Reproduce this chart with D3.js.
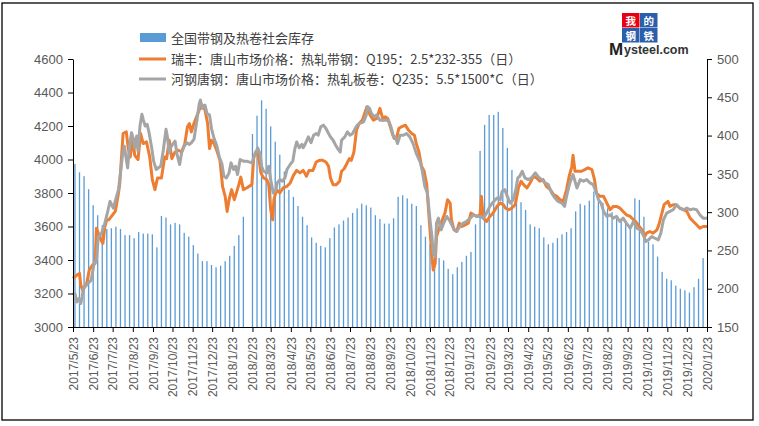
<!DOCTYPE html>
<html><head><meta charset="utf-8">
<script src="https://cdn.jsdelivr.net/npm/d3@7"></script>
<style>
body{margin:0;background:#fff}
svg{display:block}
text{font-family:"Liberation Sans",Arial,"Noto Sans CJK SC",sans-serif}
.cjk{font-family:"Noto Sans CJK SC","Liberation Sans",sans-serif}
</style>
</head><body>
<svg id="chart" width="759" height="426"></svg>
<script>
// ---------- DATA ----------
const xTickLabels = ["2017/5/23","2017/6/23","2017/7/23","2017/8/23","2017/9/23","2017/10/23","2017/11/23","2017/12/23",
"2018/1/23","2018/2/23","2018/3/23","2018/4/23","2018/5/23","2018/6/23","2018/7/23","2018/8/23","2018/9/23","2018/10/23","2018/11/23","2018/12/23",
"2019/1/23","2019/2/23","2019/3/23","2019/4/23","2019/5/23","2019/6/23","2019/7/23","2019/8/23","2019/9/23","2019/10/23","2019/11/23","2019/12/23","2020/1/23"];
const leftTicks = [3000,3200,3400,3600,3800,4000,4200,4400,4600];
const rightTicks = [150,200,250,300,350,400,450,500];

const seriesNames = ["全国带钢及热卷社会库存",
  "瑞丰：唐山市场价格：热轧带钢：Q195：2.5*232-355（日）",
  "河钢唐钢：唐山市场价格：热轧板卷：Q235：5.5*1500*C（日）"];

// weekly inventory (Fridays from 2017-05-26; null = no report, Spring Festival week)
const stockFirstWeek = "2017-05-26";
const stockValues = [363,352,347,330,309,296,283,278,279,281,
 278,270,270,266,274,272,272,271,254,295,
 293,284,286,284,273,268,257,246,236,236,
 231,228,230,236,243,256,270,294,
 null,
 402,426,446,435,412,392,375,353,329,320,
 308,294,283,267,260,256,254,266,280,284,
 289,293,299,305,311,309,306,296,291,285,
 285,
 292,320,322,318,311,308,283,268,258,249,
 240,237,226,219,228,235,243,248,284,
 380,414,427,427,431,410,384,355,328,313,
 303,284,281,279,267,258,260,266,271,274,
 279,301,311,309,315,327,314,312,305,300,
 291,291,287,282,318,316,294,261,258,242,
 222,213,211,204,200,198,195,202,213,240];

const rfDates = ["2017-05-23","2017-05-29","2017-06-02","2017-06-04","2017-06-07","2017-06-13","2017-06-17","2017-06-22","2017-06-26","2017-06-28",
"2017-07-01","2017-07-05","2017-07-08","2017-07-11","2017-07-14","2017-07-17","2017-07-22","2017-07-27","2017-08-01","2017-08-03",
"2017-08-08","2017-08-13","2017-08-16","2017-08-19","2017-08-23","2017-08-26","2017-08-31","2017-09-04","2017-09-08","2017-09-13",
"2017-09-18","2017-09-22","2017-09-26","2017-09-30","2017-10-06","2017-10-11","2017-10-14","2017-10-18","2017-10-22","2017-10-27",
"2017-11-01","2017-11-06","2017-11-11","2017-11-15","2017-11-18","2017-11-21","2017-11-25","2017-11-29","2017-12-04","2017-12-08",
"2017-12-12","2017-12-16","2017-12-19","2017-12-22","2017-12-26","2017-12-30","2018-01-04","2018-01-08","2018-01-12","2018-01-15",
"2018-01-18","2018-01-22","2018-01-26","2018-01-30","2018-02-02","2018-02-05","2018-02-09","2018-02-14","2018-02-22","2018-02-25",
"2018-02-28","2018-03-04","2018-03-08","2018-03-12","2018-03-17","2018-03-20","2018-03-23","2018-03-26","2018-03-28","2018-04-01",
"2018-04-06","2018-04-11","2018-04-17","2018-04-22","2018-04-27","2018-05-02","2018-05-07","2018-05-12","2018-05-17","2018-05-21",
"2018-05-27","2018-06-01","2018-06-06","2018-06-11","2018-06-16","2018-06-20","2018-06-23","2018-06-27","2018-07-02","2018-07-07",
"2018-07-10","2018-07-14","2018-07-18","2018-07-22","2018-07-25","2018-07-29","2018-08-02","2018-08-06","2018-08-11","2018-08-18",
"2018-08-23","2018-08-28","2018-09-02","2018-09-07","2018-09-12","2018-09-15","2018-09-19","2018-09-23","2018-09-26","2018-09-29",
"2018-10-03","2018-10-06","2018-10-10","2018-10-16","2018-10-21","2018-10-26","2018-10-30","2018-11-02","2018-11-06","2018-11-10",
"2018-11-14","2018-11-18","2018-11-20","2018-11-23","2018-11-26","2018-11-28","2018-12-01","2018-12-03","2018-12-08","2018-12-12",
"2018-12-16","2018-12-20","2018-12-24","2018-12-26","2018-12-30","2019-01-03","2019-01-07","2019-01-11","2019-01-16","2019-01-21",
"2019-01-25","2019-01-29","2019-02-03","2019-02-08","2019-02-10","2019-02-13","2019-02-18","2019-02-23","2019-02-28","2019-03-06",
"2019-03-11","2019-03-16","2019-03-19","2019-03-24","2019-03-29","2019-04-03","2019-04-08","2019-04-12","2019-04-16","2019-04-21",
"2019-04-26","2019-05-01","2019-05-06","2019-05-11","2019-05-16","2019-05-21","2019-05-27","2019-06-01","2019-06-06","2019-06-11",
"2019-06-16","2019-06-21","2019-06-25","2019-06-29","2019-07-01","2019-07-04","2019-07-09","2019-07-14","2019-07-19","2019-07-24",
"2019-07-30","2019-08-03","2019-08-06","2019-08-11","2019-08-17","2019-08-22","2019-08-27","2019-09-01","2019-09-06","2019-09-11",
"2019-09-16","2019-09-21","2019-09-27","2019-10-02","2019-10-05","2019-10-09","2019-10-15","2019-10-19","2019-10-22","2019-10-27",
"2019-11-01","2019-11-07","2019-11-10","2019-11-14","2019-11-18","2019-11-24","2019-11-27","2019-12-02","2019-12-07","2019-12-12",
"2019-12-18","2019-12-23","2019-12-28","2020-01-02","2020-01-07","2020-01-12","2020-01-17","2020-01-23"];
const rfPrices = [3290,3310,3320,3250,3220,3260,3340,3370,3380,3590,
3560,3520,3500,3600,3640,3640,3665,3690,3800,3860,
4155,4165,4065,4015,4125,4025,4000,4155,4095,4105,
4015,3880,3820,3890,3890,4015,4005,4115,4005,4045,
4055,4045,4095,4195,4215,4165,4215,4255,4305,4325,
4295,4215,4065,4115,4095,4055,3995,3840,3780,3690,
3760,3820,3760,3810,3850,3895,3820,3830,3850,4015,
4045,4025,3920,3890,3880,3850,3700,3640,3760,3820,
3800,3830,3840,3860,3905,3935,3920,3935,3900,3935,
3935,3985,3995,3995,3985,3960,3890,3850,3850,3870,
3930,3945,3975,4005,3995,4045,4175,4215,4235,4315,
4265,4235,4245,4305,4235,4255,4245,4195,4155,4125,
4135,4185,4195,4205,4175,4155,4145,4095,4045,3960,
3930,3850,3740,3580,3420,3340,3380,3540,3600,3640,
3680,3760,3740,3640,3580,3570,3620,3600,3610,3620,
3680,3670,3660,3670,3780,3650,3630,3660,3680,3720,
3740,3730,3710,3700,3710,3730,3830,3870,3850,3830,
3860,3900,3890,3870,3880,3840,3820,3790,3780,3760,
3750,3820,3900,3955,4025,3930,3930,3930,3940,3950,
3940,3880,3800,3780,3780,3740,3700,3720,3720,3710,
3690,3670,3660,3640,3630,3610,3580,3540,3560,3570,
3560,3580,3610,3670,3730,3750,3720,3730,3730,3710,
3700,3690,3650,3630,3610,3590,3600,3600];

const hgDates = ["2017-05-23","2017-05-26","2017-05-29","2017-06-01","2017-06-04","2017-06-06","2017-06-08","2017-06-15","2017-06-20","2017-06-24",
"2017-06-28","2017-07-01","2017-07-06","2017-07-11","2017-07-16","2017-07-19","2017-07-24","2017-07-29","2017-08-01","2017-08-04",
"2017-08-07","2017-08-10","2017-08-13","2017-08-15","2017-08-18","2017-08-21","2017-08-24","2017-08-26","2017-08-29","2017-08-31",
"2017-09-03","2017-09-06","2017-09-08","2017-09-11","2017-09-14","2017-09-17","2017-09-21","2017-09-24","2017-09-28","2017-10-01",
"2017-10-05","2017-10-09","2017-10-13","2017-10-15","2017-10-18","2017-10-20","2017-10-23","2017-10-27","2017-10-30","2017-11-03",
"2017-11-06","2017-11-10","2017-11-14","2017-11-18","2017-11-21","2017-11-25","2017-11-29","2017-12-03","2017-12-05","2017-12-08",
"2017-12-12","2017-12-15","2017-12-19","2017-12-22","2017-12-26","2017-12-30","2018-01-03","2018-01-07","2018-01-10","2018-01-14",
"2018-01-18","2018-01-21","2018-01-25","2018-01-28","2018-01-31","2018-02-04","2018-02-09","2018-02-14","2018-02-22","2018-02-27",
"2018-03-03","2018-03-07","2018-03-09","2018-03-12","2018-03-17","2018-03-20","2018-03-23","2018-03-27","2018-03-31","2018-04-02",
"2018-04-06","2018-04-10","2018-04-14","2018-04-17","2018-04-22","2018-04-26","2018-04-29","2018-05-02","2018-05-06","2018-05-10",
"2018-05-12","2018-05-16","2018-05-20","2018-05-24","2018-05-28","2018-06-01","2018-06-04","2018-06-08","2018-06-12","2018-06-16",
"2018-06-20","2018-06-23","2018-06-27","2018-07-01","2018-07-04","2018-07-08","2018-07-10","2018-07-15","2018-07-19","2018-07-23",
"2018-07-27","2018-07-31","2018-08-03","2018-08-07","2018-08-13","2018-08-17","2018-08-19","2018-08-22","2018-08-25","2018-08-29",
"2018-09-02","2018-09-07","2018-09-12","2018-09-15","2018-09-20","2018-09-24","2018-09-28","2018-10-01","2018-10-04","2018-10-08",
"2018-10-13","2018-10-18","2018-10-23","2018-10-28","2018-11-02","2018-11-08","2018-11-11","2018-11-15","2018-11-19","2018-11-23",
"2018-11-26","2018-11-28","2018-12-01","2018-12-03","2018-12-06","2018-12-10","2018-12-14","2018-12-19","2018-12-24","2018-12-29",
"2019-01-03","2019-01-08","2019-01-13","2019-01-18","2019-01-24","2019-01-29","2019-02-03","2019-02-08","2019-02-13","2019-02-18",
"2019-02-23","2019-02-28","2019-03-06","2019-03-11","2019-03-14","2019-03-18","2019-03-22","2019-03-26","2019-03-31","2019-04-04",
"2019-04-07","2019-04-10","2019-04-14","2019-04-18","2019-04-23","2019-04-28","2019-05-04","2019-05-09","2019-05-14","2019-05-19",
"2019-05-24","2019-05-29","2019-06-03","2019-06-08","2019-06-14","2019-06-18","2019-06-21","2019-06-26","2019-07-01","2019-07-07",
"2019-07-12","2019-07-17","2019-07-22","2019-07-27","2019-08-01","2019-08-06","2019-08-09","2019-08-13","2019-08-17","2019-08-22",
"2019-08-27","2019-09-01","2019-09-06","2019-09-11","2019-09-16","2019-09-21","2019-09-27","2019-10-02","2019-10-07","2019-10-12",
"2019-10-17","2019-10-21","2019-10-25","2019-10-30","2019-11-04","2019-11-09","2019-11-13","2019-11-17","2019-11-22","2019-11-27",
"2019-12-02","2019-12-07","2019-12-12","2019-12-18","2019-12-23","2019-12-28","2020-01-02","2020-01-07","2020-01-12","2020-01-17","2020-01-23"];
const hgPrices = [3190,3200,3150,3170,3140,3180,3230,3260,3280,3370,
3400,3540,3560,3620,3700,3750,3710,3780,3820,3920,
4020,4080,4000,3950,4080,4160,4120,4070,4140,4050,
4200,4270,4240,4200,4210,4160,4070,3990,3940,3950,
3960,4060,4180,4140,4040,4070,4090,4110,4030,3970,
4040,4080,4100,4090,4100,4120,4220,4330,4355,4305,
4325,4275,4265,4185,4125,4085,4015,3975,3900,3890,
3920,3980,3940,3960,3910,4000,3990,3990,3980,4030,
4070,4030,3960,3930,3920,3960,3880,3800,3820,3860,
3880,3870,3890,3940,3970,3990,4060,4105,4070,4090,
4070,4100,4135,4100,4145,4155,4145,4195,4205,4185,
4155,4135,4115,4085,4065,4045,4115,4135,4165,4145,
4155,4185,4205,4215,4225,4265,4315,4305,4275,4255,
4265,4235,4235,4235,4235,4195,4135,4135,4095,4145,
4145,4155,4135,4095,4035,3985,3935,3840,3800,3640,
3540,3440,3420,3620,3650,3580,3620,3660,3630,3590,
3570,3600,3620,3630,3650,3670,3660,3660,3650,3680,
3720,3745,3770,3760,3810,3820,3780,3740,3760,3820,
3890,3900,3930,3890,3880,3890,3920,3895,3880,3860,
3850,3800,3770,3750,3740,3720,3780,3860,3910,3830,
3880,3870,3880,3860,3850,3800,3760,3740,3690,3660,
3670,3650,3660,3630,3650,3620,3590,3630,3590,3580,
3550,3510,3520,3540,3530,3520,3560,3640,3680,3690,
3700,3730,3710,3700,3710,3700,3705,3700,3670,3650,3650];

// ---------- CHART ----------
const M = {left: 73, right: 707, top: 59, bottom: 327};
const parseISO = d3.utcParse("%Y-%m-%d");
const parseTick = d3.utcParse("%Y/%m/%d");
const tickDates = xTickLabels.map(parseTick);

const svg = d3.select("#chart");
svg.append("rect").attr("x", 2).attr("y", 3).attr("width", 751).attr("height", 417)
  .attr("fill", "#fff").attr("stroke", "#000").attr("stroke-width", 1.3);

const x = d3.scaleUtc().domain([tickDates[0], tickDates[tickDates.length - 1]]).range([M.left, M.right]);
const yL = d3.scaleLinear().domain([3000, 4600]).range([M.bottom, M.top]);
const yR = d3.scaleLinear().domain([150, 500]).range([M.bottom, M.top]);

// bars
const firstWeek = parseISO(stockFirstWeek);
const stock = stockValues.map((v, i) => ({date: d3.utcDay.offset(firstWeek, 7 * i), v}))
  .filter(d => d.v !== null);
const barW = 1.3;
svg.append("g").selectAll("rect").data(stock).join("rect")
  .attr("x", d => x(d.date) - barW / 2)
  .attr("y", d => yR(d.v))
  .attr("width", barW)
  .attr("height", d => yR(150) - yR(d.v))
  .attr("fill", "#5B9BD5");

// lines
const line = d3.line().x(d => x(d.date)).y(d => yL(d.v));
const rf = rfDates.map((d, i) => ({date: parseISO(d), v: rfPrices[i]}));
const hg = hgDates.map((d, i) => ({date: parseISO(d), v: hgPrices[i]}));
svg.append("path").datum(rf).attr("d", line).attr("fill", "none")
  .attr("stroke", "#ED7D31").attr("stroke-width", 3).attr("stroke-linejoin", "round");
svg.append("path").datum(hg).attr("d", line).attr("fill", "none")
  .attr("stroke", "#A5A5A5").attr("stroke-width", 3).attr("stroke-linejoin", "round");

// axes
function styleAxis(g) {
  g.selectAll(".domain").attr("stroke", "#000");
  g.selectAll(".tick line").attr("stroke", "#000");
  g.selectAll(".tick text").attr("fill", "#595959");
}
const gL = svg.append("g").attr("transform", `translate(${M.left},0)`)
  .call(d3.axisLeft(yL).tickValues(leftTicks).tickSize(5).tickSizeOuter(0).tickPadding(5).tickFormat(d3.format("d")));
gL.selectAll("text").style("font-size", "13px");
styleAxis(gL);
const gR = svg.append("g").attr("transform", `translate(${M.right},0)`)
  .call(d3.axisRight(yR).tickValues(rightTicks).tickSize(5).tickSizeOuter(0).tickPadding(5).tickFormat(d3.format("d")));
gR.selectAll("text").style("font-size", "13px");
styleAxis(gR);
const gX = svg.append("g").attr("transform", `translate(0,${M.bottom})`)
  .call(d3.axisBottom(x).tickValues(tickDates).tickSize(5).tickSizeOuter(0).tickFormat((d, i) => xTickLabels[i]));
gX.selectAll(".tick text")
  .style("font-size", "12px")
  .attr("transform", "rotate(-90)")
  .attr("x", -10).attr("y", 0).attr("dy", "0.35em")
  .attr("text-anchor", "end");
styleAxis(gX);

// legend
const lg = svg.append("g");
lg.append("rect").attr("x", 140).attr("y", 33).attr("width", 26).attr("height", 9).attr("fill", "#5B9BD5");
lg.append("line").attr("x1", 139).attr("x2", 166).attr("y1", 59).attr("y2", 59)
  .attr("stroke", "#ED7D31").attr("stroke-width", 3);
lg.append("line").attr("x1", 139).attr("x2", 166).attr("y1", 79).attr("y2", 79)
  .attr("stroke", "#A5A5A5").attr("stroke-width", 3);
[38, 59, 79].forEach((yy, i) => {
  lg.append("text").attr("class", "cjk").attr("x", 171).attr("y", yy).attr("dy", "0.36em")
    .style("font-size", "13px").attr("fill", "#404040").text(seriesNames[i]);
});

// logo
const logo = svg.append("g");
const cells = [["我", 622, 13, "#E60012"], ["的", 640, 13, "#2B5EAB"], ["钢", 622, 28, "#2B5EAB"], ["铁", 640, 28, "#2B5EAB"]];
cells.forEach(([ch, cx, cy, col]) => {
  logo.append("rect").attr("x", cx).attr("y", cy).attr("width", 17.5).attr("height", 14.5).attr("fill", col);
});
cells.forEach(([ch, cx, cy]) => {
  logo.append("text").attr("class", "cjk").attr("x", cx + 8.75).attr("y", cy + 12)
    .attr("text-anchor", "middle").style("font-size", "10.5px").style("font-weight", "bold").attr("fill", "#fff").text(ch);
});
logo.append("text").attr("x", 609).attr("y", 55).style("font-size", "17px").style("font-weight", "bold")
  .attr("fill", "#222").text("M");
logo.append("text").attr("x", 624).attr("y", 54).style("font-size", "12.5px").style("font-weight", "bold")
  .attr("fill", "#333").text("ysteel.com");
</script>
</body></html>
